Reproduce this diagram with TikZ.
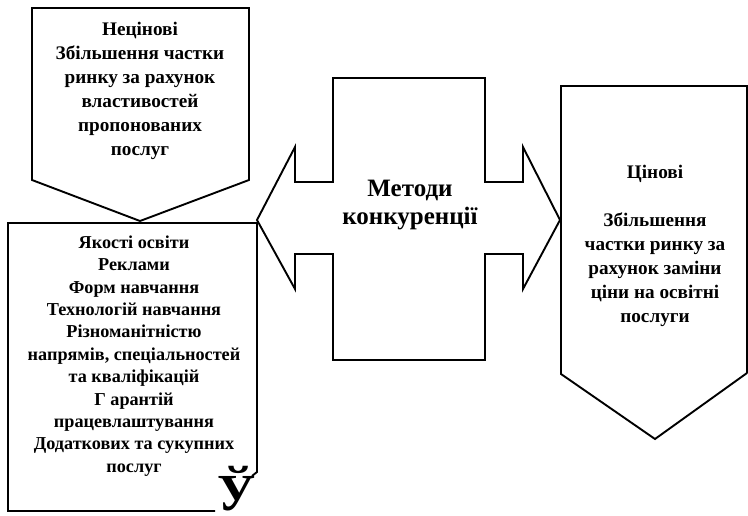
\documentclass[tikz,border=0pt]{standalone}
\usepackage{fontspec}
\setmainfont{Liberation Serif}
\begin{document}
\begin{tikzpicture}[x=1pt,y=-1pt,
  shp/.style={draw=black,line width=1.9pt,line join=miter},
  txt/.style={font=\bfseries\fontsize{19.2}{24}\selectfont,align=center,inner sep=0pt}]
\useasboundingbox (0,0) rectangle (748,515);
% top-left pentagon
\draw[shp] (32,8) -- (249,8) -- (249,180) -- (140,221) -- (32,180) -- cycle;
% bottom-left box
\draw[shp] (215,511) -- (8,511) -- (8,223) -- (257,223) -- (257,472) -- (252,476);
% center double arrow
\draw[shp] (257,220) -- (295,147) -- (295,182) -- (333,182) -- (333,78) -- (485,78)
  -- (485,182) -- (523,182) -- (523,147) -- (560,220) -- (523,289) -- (523,254)
  -- (485,254) -- (485,360) -- (333,360) -- (333,254) -- (295,254) -- (295,289) -- cycle;
% right pentagon
\draw[shp] (747,373) -- (747,86) -- (561,86) -- (561,374) -- (655,439) -- (747,373);
% texts
\node[txt] (nonprice) at (140,91) {Нецінові\\Збільшення частки\\ринку за рахунок\\властивостей\\пропонованих\\послуг};
\node[txt,font=\bfseries\fontsize{18.2}{22.4}\selectfont] (quality) at (134,356) {Якості освіти\\Реклами\\Форм навчання\\Технологій навчання\\Різноманітністю\\напрямів, спеціальностей\\та кваліфікацій\\Г арантій\\працевлаштування\\Додаткових та сукупних\\послуг};
\node[txt,font=\bfseries\fontsize{25}{28.5}\selectfont] (methods) at (410,205) {Методи\\конкуренції};
\node[txt] (price) at (655,246) {Цінові\\[24pt]Збільшення\\частки ринку за\\рахунок заміни\\ціни на освітні\\послуги};
\node[inner sep=0pt,anchor=base,font=\bfseries\fontsize{52}{52}\selectfont] (glyph) at (237,510) {Ў};
\end{tikzpicture}
\end{document}
